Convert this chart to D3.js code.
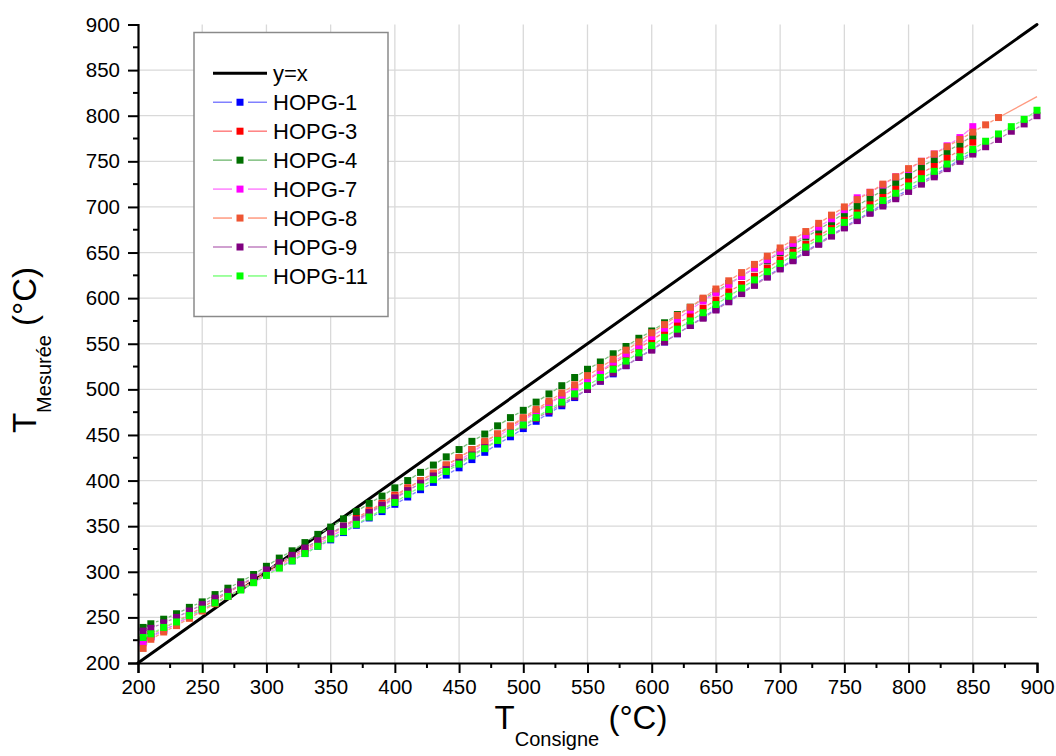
<!DOCTYPE html>
<html>
<head>
<meta charset="utf-8">
<script src="https://cdn.jsdelivr.net/npm/d3@7/dist/d3.min.js"></script>
<style>
  html, body { margin: 0; padding: 0; background: #fff; }
  svg { display: block; }
  text { font-family: "Liberation Sans", Arial, sans-serif; fill: #000; }
</style>
</head>
<body>
<svg id="chart" width="1056" height="756"></svg>
<script>
// ---- Data ----
const tempsConsigne = [
  204, 210, 220, 230, 240, 250, 260, 270, 280, 290,
  300, 310, 320, 330, 340, 350, 360, 370, 380, 390,
  400, 410, 420, 430, 440, 450, 460, 470, 480, 490,
  500, 510, 520, 530, 540, 550, 560, 570, 580, 590,
  600, 610, 620, 630, 640, 650, 660, 670, 680, 690,
  700, 710, 720, 730, 740, 750, 760, 770, 780, 790,
  800, 810, 820, 830, 840, 850, 860, 870, 880, 890,
  900
];
const hopg1 = [
  224, 229, 236, 243, 251, 258, 266, 273, 281, 289,
  297, 305, 312, 320, 328, 335, 343, 351, 359, 366,
  374, 382, 390, 398, 406, 414, 423, 431, 440, 448,
  457, 465, 474, 482, 491, 500, 509, 517, 526, 535,
  544, 552, 561, 570, 579, 588, 597, 606, 615, 624,
  633, 642, 651, 660, 669, 678, 686, 694, 703, 711,
  719, 727, 735, 743, 752, 760
];
const hopg3 = [
  226, 231, 238, 246, 253, 261, 269, 277, 285, 293,
  301, 309, 318, 326, 334, 342, 350, 359, 367, 375,
  384, 392, 400, 408, 417, 425, 434, 442, 451, 459,
  468, 476, 485, 493, 502, 510, 519, 528, 537, 545,
  554, 563, 572, 580, 589, 598, 607, 615, 624, 633,
  642, 651, 659, 668, 677, 686, 694, 703, 711, 720,
  728, 737, 745, 754, 762, 771
];
const hopg4 = [
  239, 243, 248, 254, 261, 267, 275, 282, 289, 297,
  306, 315, 323, 332, 341, 349, 358, 366, 375, 383,
  392, 400, 409, 417, 426, 434, 443, 451, 460, 469,
  477, 486, 495, 504, 513, 522, 530, 539, 547, 556,
  564, 573, 582, 590, 599, 607, 616, 624, 633, 641,
  650, 658, 667, 675, 684, 693, 701, 710, 718, 727,
  735, 744, 752, 761, 769, 778
];
const hopg7 = [
  222, 228, 236, 243, 251, 258, 266, 273, 281, 289,
  297, 305, 314, 322, 330, 338, 347, 355, 364, 372,
  380, 389, 397, 406, 414, 422, 431, 440, 448, 457,
  466, 475, 484, 493, 502, 511, 520, 530, 539, 548,
  558, 567, 577, 587, 597, 606, 615, 624, 633, 642,
  651, 660, 669, 678, 687, 697, 710, 716, 724, 733,
  741, 750, 758, 767, 776, 788
];
const hopg8 = [
  216, 226, 234, 241, 249, 257, 265, 273, 281, 290,
  299, 307, 316, 324, 332, 341, 349, 357, 366, 374,
  383, 391, 400, 408, 417, 425, 434, 443, 451, 460,
  469, 478, 487, 496, 505, 515, 524, 533, 543, 552,
  562, 571, 581, 590, 600, 610, 619, 628, 637, 646,
  655, 664, 673, 682, 691, 700, 708, 716, 725, 733,
  742, 750, 758, 766, 774, 782, 790, 798
];
const hopg8FitX = [870, 900];
const hopg8FitY = [798, 821];
const hopg9 = [
  235, 238, 244, 250, 257, 264, 271, 278, 286, 294,
  302, 310, 318, 326, 334, 342, 350, 357, 365, 373,
  381, 389, 397, 405, 412, 420, 428, 436, 444, 452,
  460, 468, 476, 484, 492, 500, 509, 518, 526, 535,
  543, 552, 561, 570, 578, 587, 596, 605, 614, 623,
  632, 641, 650, 659, 668, 677, 685, 693, 701, 709,
  717, 725, 733, 742, 750, 758, 766, 774, 783, 791,
  800
];
const hopg11 = [
  228, 232, 239, 245, 252, 259, 266, 273, 280, 288,
  296, 304, 312, 320, 328, 336, 344, 352, 360, 368,
  376, 385, 393, 401, 410, 418, 427, 435, 444, 452,
  461, 469, 478, 486, 495, 504, 513, 522, 531, 540,
  548, 557, 566, 575, 584, 593, 602, 611, 620, 629,
  638, 647, 656, 665, 674, 683, 691, 699, 707, 715,
  723, 731, 739, 747, 755, 763, 772, 780, 788, 796,
  806
];
const seriesNames = ["HOPG-1", "HOPG-3", "HOPG-4", "HOPG-7", "HOPG-8", "HOPG-9", "HOPG-11"];
const seriesValues = [hopg1, hopg3, hopg4, hopg7, hopg8, hopg9, hopg11];
const markerColors = ["#0000ff", "#ff0000", "#006f00", "#ff00ff", "#ee5533", "#800080", "#00ff00"];
const lineColors = ["#8080ff", "#ff8080", "#80c080", "#ff80ff", "#ff9a80", "#c080c0", "#80ff80"];
const identityLine = [200, 900];
const tickValues = [200, 250, 300, 350, 400, 450, 500, 550, 600, 650, 700, 750, 800, 850, 900];
const gridValues = [250, 300, 350, 400, 450, 500, 550, 600, 650, 700, 750, 800, 850];
const minorValues = [225, 275, 325, 375, 425, 475, 525, 575, 625, 675, 725, 775, 825, 875];

// ---- Layout ----
const svg = d3.select("#chart");
const plotL = 138, plotR = 1037, plotT = 24.5, plotB = 663;
const x = d3.scaleLinear().domain([200, 900]).range([plotL, plotR]);
const y = d3.scaleLinear().domain([200, 900]).range([plotB, plotT]);

// grid
const grid = svg.append("g").attr("stroke", "#d9d9d9").attr("stroke-width", 1.3);
grid.selectAll(".gv").data(gridValues).join("line").attr("class", "gv")
  .attr("x1", d => x(d)).attr("x2", d => x(d)).attr("y1", y(200)).attr("y2", y(900));
grid.selectAll(".gh").data(gridValues).join("line").attr("class", "gh")
  .attr("y1", d => y(d)).attr("y2", d => y(d)).attr("x1", x(200)).attr("x2", x(900));

// legend box (covers grid)
svg.append("rect").attr("x", 194).attr("y", 32.5).attr("width", 194).attr("height", 284)
  .attr("fill", "#fff").attr("stroke", "#8a8a8a").attr("stroke-width", 1.5);

// identity line
svg.append("line")
  .attr("x1", x(identityLine[0])).attr("y1", y(identityLine[0]))
  .attr("x2", x(identityLine[1])).attr("y2", y(identityLine[1]))
  .attr("stroke", "#000").attr("stroke-width", 3).attr("stroke-linecap", "round");

// series
const gap = 5.5;
seriesValues.forEach((vals, si) => {
  const pts = vals.map((v, i) => [x(tempsConsigne[i]), y(v)]);
  const g = svg.append("g");
  const segs = d3.pairs(pts);
  g.selectAll("line").data(segs).join("line")
    .each(function([a, b]) {
      const dx = b[0] - a[0], dy = b[1] - a[1];
      const L = Math.hypot(dx, dy);
      const ux = dx / L, uy = dy / L;
      d3.select(this)
        .attr("x1", a[0] + ux * gap).attr("y1", a[1] + uy * gap)
        .attr("x2", b[0] - ux * gap).attr("y2", b[1] - uy * gap);
    })
    .attr("stroke", lineColors[si]).attr("stroke-width", 1.3);
  if (si === 4) {
    g.append("line")
      .attr("x1", x(hopg8FitX[0])).attr("y1", y(hopg8FitY[0]))
      .attr("x2", x(hopg8FitX[1])).attr("y2", y(hopg8FitY[1]))
      .attr("stroke", lineColors[si]).attr("stroke-width", 1.3);
  }
  g.selectAll("rect").data(pts).join("rect")
    .attr("x", d => d[0] - 3.5).attr("y", d => d[1] - 3.5)
    .attr("width", 7).attr("height", 7)
    .attr("fill", markerColors[si]);
});

// axes
const axisY = d3.axisLeft(y).tickValues(tickValues).tickSize(10).tickPadding(8);
const axisX = d3.axisBottom(x).tickValues(tickValues).tickSize(10).tickPadding(6);
const gy = svg.append("g").attr("transform", `translate(${plotL},0)`).call(axisY);
const gx = svg.append("g").attr("transform", `translate(0,${plotB})`).call(axisX);
[gx, gy].forEach(g => {
  g.select(".domain").attr("stroke", "#000").attr("stroke-width", 2.2);
  g.selectAll(".tick line").attr("stroke", "#000").attr("stroke-width", 2);
  g.selectAll(".tick text").attr("font-size", 20.5).attr("fill", "#111")
    .attr("font-family", "'Liberation Sans', Arial, sans-serif");
});
// minor ticks
svg.append("g").selectAll("line").data(minorValues).join("line")
  .attr("x1", plotL).attr("x2", plotL - 5).attr("y1", d => y(d)).attr("y2", d => y(d))
  .attr("stroke", "#000").attr("stroke-width", 2);
svg.append("g").selectAll("line").data(minorValues).join("line")
  .attr("y1", plotB).attr("y2", plotB + 5).attr("x1", d => x(d)).attr("x2", d => x(d))
  .attr("stroke", "#000").attr("stroke-width", 2);

// axis titles
const xt = svg.append("text").attr("x", 581).attr("y", 729).attr("text-anchor", "middle")
  .attr("font-size", 33);
xt.append("tspan").text("T");
xt.append("tspan").attr("font-size", 20).attr("dy", 17).text("Consigne");
xt.append("tspan").attr("dy", -17).text(" (°C)");

const yt = svg.append("text").attr("transform", "translate(36,350) rotate(-90)")
  .attr("text-anchor", "middle").attr("font-size", 33);
yt.append("tspan").text("T");
yt.append("tspan").attr("font-size", 20).attr("dy", 15).text("Mesurée");
yt.append("tspan").attr("dy", -15).text(" (°C)");

// legend entries
const legX1 = 213, legX2 = 267, legM = 240, legTx = 273, legY0 = 73.3, legDy = 28.95;
const lg = svg.append("g");
lg.append("line").attr("x1", legX1).attr("x2", legX2).attr("y1", legY0).attr("y2", legY0)
  .attr("stroke", "#000").attr("stroke-width", 3);
lg.append("text").attr("x", legTx).attr("y", legY0).attr("dy", "0.35em")
  .attr("font-size", 22).text("y=x");
seriesNames.forEach((name, i) => {
  const yy = legY0 + (i + 1) * legDy;
  lg.append("line").attr("x1", legX1).attr("x2", legM - 8).attr("y1", yy).attr("y2", yy)
    .attr("stroke", lineColors[i]).attr("stroke-width", 1.5);
  lg.append("line").attr("x1", legM + 8).attr("x2", legX2).attr("y1", yy).attr("y2", yy)
    .attr("stroke", lineColors[i]).attr("stroke-width", 1.5);
  lg.append("rect").attr("x", legM - 3.5).attr("y", yy - 3.5).attr("width", 7).attr("height", 7)
    .attr("fill", markerColors[i]);
  lg.append("text").attr("x", legTx).attr("y", yy).attr("dy", "0.35em")
    .attr("font-size", 22).text(name);
});
</script>
</body>
</html>
